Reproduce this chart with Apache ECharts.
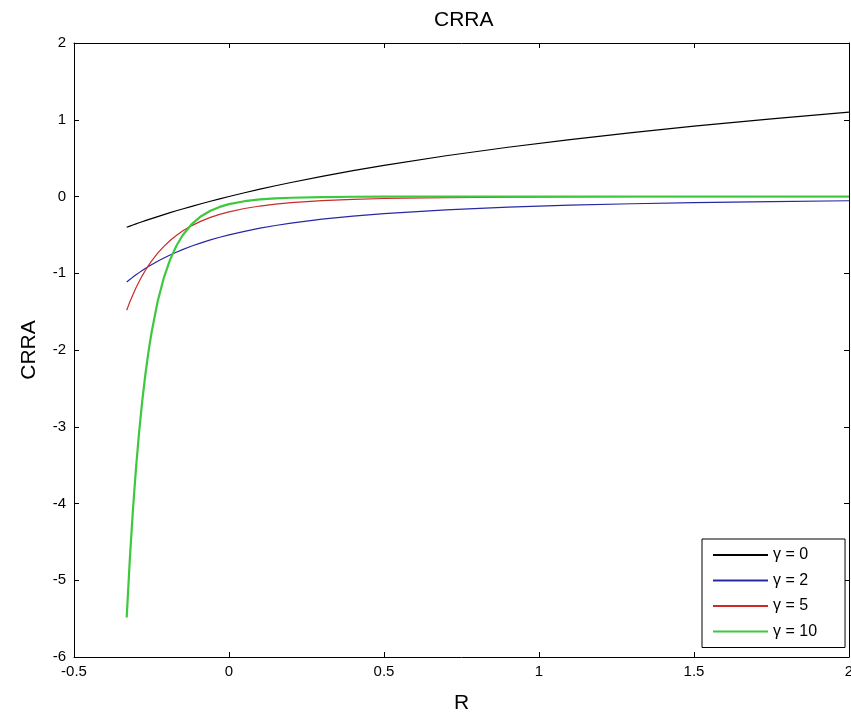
<!DOCTYPE html>
<html>
<head>
<meta charset="utf-8">
<script src="https://cdn.jsdelivr.net/npm/echarts@6/dist/echarts.min.js"></script>
<style>html,body{margin:0;padding:0;background:#fff;overflow:hidden}#c{width:851px;height:720px}</style>
</head>
<body>
<div id="c"></div>
<script>
// R values (x axis)
var R = [-0.33, -0.32, -0.31, -0.30, -0.29, -0.28, -0.27, -0.26, -0.25, -0.23, -0.21, -0.19, -0.17, -0.15, -0.12, -0.09, -0.06, -0.03, 0, 0.05, 0.1, 0.15, 0.2, 0.3, 0.4, 0.5, 0.7, 0.9, 1.1, 1.3, 1.5, 1.75, 2.0];
// CRRA values per gamma
var gamma0 = [-0.4005, -0.3857, -0.3711, -0.3567, -0.3425, -0.3285, -0.3147, -0.3011, -0.2877, -0.2614, -0.2357, -0.2107, -0.1863, -0.1625, -0.1278, -0.0943, -0.0619, -0.0305, 0, 0.0488, 0.0953, 0.1398, 0.1823, 0.2624, 0.3365, 0.4055, 0.5306, 0.6419, 0.7419, 0.8329, 0.9163, 1.0116, 1.0986];
var gamma2 = [-1.1138, -1.0813, -1.0502, -1.0204, -0.9919, -0.9645, -0.9383, -0.9131, -0.8889, -0.8433, -0.8012, -0.7621, -0.7258, -0.6920, -0.6457, -0.6038, -0.5659, -0.5314, -0.5, -0.4535, -0.4132, -0.3781, -0.3472, -0.2959, -0.2551, -0.2222, -0.1730, -0.1385, -0.1134, -0.0945, -0.08, -0.0661, -0.0556];
var gamma5 = [-1.4815, -1.3755, -1.2788, -1.1900, -1.1086, -1.0336, -0.9648, -0.9013, -0.8428, -0.7388, -0.6500, -0.5736, -0.5077, -0.4507, -0.3790, -0.3205, -0.2725, -0.2329, -0.2, -0.1567, -0.1242, -0.0994, -0.0804, -0.0539, -0.0372, -0.0263, -0.0141, -0.0081, -0.0049, -0.0031, -0.0020, -0.0013, -0.0008];
var gamma10 = [-5.4845, -4.7306, -4.0885, -3.5401, -3.0715, -2.6703, -2.3257, -2.0301, -1.7757, -1.3652, -1.0560, -0.8225, -0.6445, -0.5079, -0.3590, -0.2568, -0.1857, -0.1356, -0.1, -0.0614, -0.0386, -0.0247, -0.0162, -0.0073, -0.0035, -0.0017, -0.0005, -0.0002, -0.0001, 0, 0, 0, 0];
var seriesNames = ['γ = 0', 'γ = 2', 'γ = 5', 'γ = 10'];
var seriesValues = [gamma0, gamma2, gamma5, gamma10];
var seriesColors = ['#000000', '#2828a4', '#cc2a2a', '#3ec83e'];
var seriesWidths = [1.2, 1.2, 1.2, 2.2];

var FONT = 'Liberation Sans';
var chart = echarts.init(document.getElementById('c'), null, {renderer: 'canvas'});

function pairs(vals) { return R.map(function (r, i) { return [r, vals[i]]; }); }

var axisCommon = {
  type: 'value',
  axisLine: {show: true, onZero: false, lineStyle: {color: '#000', width: 1}},
  axisTick: {show: true, inside: true, length: 5, lineStyle: {color: '#000'}},
  splitLine: {show: false}
};

var option = {
  animation: false,
  backgroundColor: '#fff',
  title: {
    text: 'CRRA', left: 429, top: 5,
    textStyle: {fontFamily: FONT, fontSize: 21, fontWeight: 'normal', color: '#000'}
  },
  grid: {left: 74, right: 2, top: 43, bottom: 63, containLabel: false, outerBoundsMode: 'none'},
  legend: {
    orient: 'vertical', left: 702, top: 539,
    padding: [8, 28, 8, 10], itemGap: 9.5, itemWidth: 55, itemHeight: 14,
    backgroundColor: '#fff', borderColor: '#000', borderWidth: 1, borderRadius: 0,
    selectedMode: false,
    itemStyle: {opacity: 0},
    textStyle: {fontFamily: FONT, fontSize: 16, color: '#000'},
    data: seriesNames
  },
  xAxis: [
    Object.assign({}, axisCommon, {
      position: 'bottom', min: -0.5, max: 2, interval: 0.5,
      name: 'R', nameLocation: 'middle', nameGap: 36,
      nameTextStyle: {fontFamily: FONT, fontSize: 21, color: '#000'},
      axisLabel: {fontFamily: FONT, fontSize: 15, color: '#000', margin: 7}
    }),
    Object.assign({}, axisCommon, {
      position: 'top', min: -0.5, max: 2, interval: 0.5,
      axisLabel: {show: false}
    })
  ],
  yAxis: [
    Object.assign({}, axisCommon, {
      position: 'left', min: -6, max: 2, interval: 1,
      name: 'CRRA', nameLocation: 'middle', nameGap: 34, nameRotate: 90,
      nameTextStyle: {fontFamily: FONT, fontSize: 21, color: '#000'},
      axisLabel: {fontFamily: FONT, fontSize: 15, color: '#000', margin: 8}
    }),
    Object.assign({}, axisCommon, {
      position: 'right', min: -6, max: 2, interval: 1,
      axisLabel: {show: false}
    })
  ],
  series: seriesNames.map(function (n, k) {
    return {
      name: n, type: 'line', xAxisIndex: 0, yAxisIndex: 0,
      data: pairs(seriesValues[k]), symbol: 'none', smooth: false,
      color: seriesColors[k],
      lineStyle: {color: seriesColors[k], width: seriesWidths[k]},
      z: 2 + k
    };
  })
};
chart.setOption(option);
</script>
</body>
</html>
